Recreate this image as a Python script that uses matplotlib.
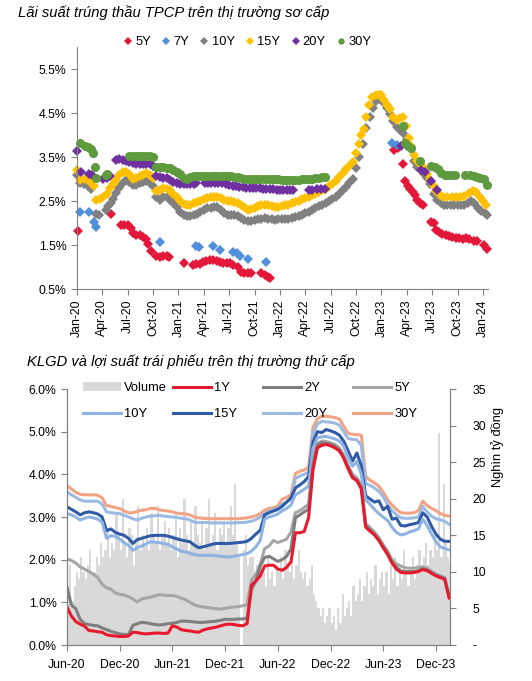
import numpy as np
import matplotlib
matplotlib.use("Agg")
import matplotlib.pyplot as plt
from matplotlib import font_manager

# fonts: narrow Arial-like if present
names = {f.name for f in font_manager.fontManager.ttflist}
narrow = "Liberation Sans Narrow" in names
base = "Liberation Sans Narrow" if narrow else "Liberation Sans"
plt.rcParams["font.family"] = [base, "DejaVu Sans"]
k = 1.0 if narrow else 0.88   # shrink sizes when only the normal width is available

# ---------------- top chart data (months from Jan-20) ----------------
q_labels = ["Jan-20", "Apr-20", "Jul-20", "Oct-20", "Jan-21", "Apr-21", "Jul-21", "Oct-21",
            "Jan-22", "Apr-22", "Jul-22", "Oct-22", "Jan-23", "Apr-23", "Jul-23", "Oct-23", "Jan-24"]

t5 = [0.1, 4.05, 5.2, 5.6, 6.0, 6.4, 6.6, 7.0, 7.4, 7.8, 8.1, 8.4, 8.8, 9.4, 9.8, 10.2, 10.6, 10.9,
      12.7, 13.7, 14.1, 14.5, 14.9, 15.3, 15.7, 16.1, 16.5, 16.9, 17.3, 17.7, 18.1, 18.5, 19.0, 19.4,
      19.8, 20.2, 20.6, 21.8, 22.2, 22.6, 22.8,
      37.5, 37.9, 38.5, 38.8, 39.1, 39.4, 39.7, 40.0, 40.2, 40.6, 40.9, 41.9, 42.2, 42.5, 42.8, 43.2,
      43.6, 44.0, 44.4, 44.8, 45.2, 45.6, 46.0, 46.4, 47.0, 47.3, 48.1, 48.5]
v5 = [1.81, 2.21, 1.96, 1.96, 1.95, 1.88, 1.78, 1.73, 1.72, 1.68, 1.63, 1.52, 1.36, 1.25, 1.23, 1.24, 1.24, 1.23,
      1.09, 1.05, 1.06, 1.07, 1.12, 1.14, 1.16, 1.17, 1.14, 1.12, 1.10, 1.09, 1.08, 1.05, 1.00, 0.88,
      0.86, 0.86, 0.86, 0.86, 0.81, 0.77, 0.75,
      3.67, 3.70, 3.33, 2.95, 2.85, 2.78, 2.70, 2.63, 2.52, 2.45, 2.40, 2.02, 2.00, 1.85, 1.80, 1.75,
      1.72, 1.70, 1.68, 1.66, 1.65, 1.64, 1.65, 1.63, 1.60, 1.60, 1.50, 1.40]

t7 = [0.3, 1.4, 2.0, 2.2, 9.8, 14.1, 14.4, 16.1, 16.9, 18.4, 18.9, 19.3, 20.2, 22.4, 37.2, 37.8]
v7 = [2.26, 2.26, 2.02, 1.90, 1.56, 1.47, 1.46, 1.47, 1.38, 1.33, 1.32, 1.26, 1.19, 1.11, 3.81, 3.78]

t10 = [0.0, 0.3, 0.8, 1.3, 1.7, 2.3, 2.6, 3.4, 3.7, 4.0, 4.3, 4.6, 5.0, 5.4, 5.8, 6.2, 6.6, 7.0, 7.4, 7.8,
       8.2, 8.6, 9.0, 9.4, 9.8, 10.2, 10.6, 11.0, 11.4, 11.8, 12.2, 12.6, 13.0, 13.4, 13.8, 14.2, 14.6,
       15.0, 15.4, 15.8, 16.2, 16.6, 17.0, 17.4, 17.8, 18.2, 18.6, 19.0, 19.4, 19.8, 20.2, 20.6, 21.0,
       21.4, 21.8, 22.2, 22.6, 23.0, 23.4, 23.8, 24.2, 24.6, 25.0, 25.4, 25.8, 26.2, 26.6, 27.0, 27.4,
       27.8, 28.2, 28.6, 29.0, 29.4, 29.8, 30.2, 30.6, 31.0, 31.4, 31.8, 32.2, 32.6, 33.0, 33.4, 33.8,
       34.2, 34.6, 35.0, 35.4, 35.8, 36.2, 36.6, 37.0, 37.4, 37.8, 38.2, 38.6, 39.0, 39.4, 39.8, 40.2,
       40.6, 41.0, 41.4, 41.8, 42.2, 42.6, 43.0, 43.4, 43.8, 44.2, 44.6, 45.0, 45.4, 45.8, 46.2, 46.6,
       47.0, 47.4, 47.8, 48.2, 48.5]
v10 = [3.10, 2.92, 2.88, 2.84, 2.78, 2.20, 2.18, 2.30, 2.38, 2.45, 2.55, 2.68, 2.80, 2.91, 2.98, 2.93, 2.87, 2.86, 2.90, 2.93,
       2.95, 2.90, 2.83, 2.60, 2.53, 2.58, 2.60, 2.52, 2.45, 2.36, 2.25, 2.18, 2.15, 2.16, 2.18, 2.20, 2.25,
       2.30, 2.33, 2.35, 2.37, 2.36, 2.30, 2.22, 2.19, 2.19, 2.19, 2.16, 2.12, 2.07, 2.04, 2.04, 2.06,
       2.08, 2.10, 2.11, 2.10, 2.08, 2.07, 2.08, 2.08, 2.09, 2.10, 2.12, 2.14, 2.16, 2.19, 2.22, 2.25,
       2.30, 2.34, 2.38, 2.42, 2.46, 2.50, 2.54, 2.60, 2.66, 2.74, 2.82, 2.92, 3.00, 3.25, 3.50, 3.80,
       4.15, 4.40, 4.62, 4.78, 4.82, 4.76, 4.62, 4.48, 4.32, 4.18, 4.12, 4.05, 3.90, 3.70, 3.40, 3.28,
       3.22, 3.12, 3.02, 2.88, 2.65, 2.52, 2.45, 2.42, 2.40, 2.40, 2.40, 2.40, 2.40, 2.42, 2.45, 2.50,
       2.45, 2.33, 2.27, 2.22, 2.19]

t15 = [0.0, 0.4, 0.9, 1.3, 1.7, 2.0, 2.3, 2.7, 3.1, 3.5, 3.9, 4.2, 4.6, 5.0, 5.4, 5.8, 6.2, 6.6, 7.0, 7.4,
       7.8, 8.2, 8.6, 9.0, 9.4, 9.8, 10.2, 10.6, 11.0, 11.4, 11.8, 12.2, 12.6, 13.0, 13.4, 13.8, 14.2,
       14.6, 15.0, 15.4, 15.8, 16.2, 16.6, 17.0, 17.4, 17.8, 18.2, 18.6, 19.0, 19.4, 19.8, 20.2, 20.6,
       21.0, 21.4, 21.8, 22.2, 22.6, 23.0, 23.4, 23.8, 24.2, 24.6, 25.0, 25.4, 25.8, 26.2, 26.6, 27.0,
       27.4, 27.8, 28.2, 28.6, 29.0, 29.4, 29.8, 30.2, 30.6, 31.0, 31.4, 31.8, 32.2, 32.6, 33.0, 33.3,
       33.6, 33.9, 34.2, 34.5, 34.9, 35.3, 35.7, 36.0, 36.3, 36.7, 37.0, 37.4, 37.8, 38.2, 38.6, 38.9,
       39.2, 39.5, 39.8, 40.2, 40.6, 41.0, 41.4, 41.8, 42.2, 42.5, 42.9, 43.3, 43.8, 44.3, 44.8, 45.3,
       45.8, 46.3, 46.8, 47.2, 47.6, 48.0, 48.4]
v15 = [3.21, 2.98, 3.00, 3.02, 2.92, 2.85, 2.53, 2.55, 2.60, 2.66, 2.80, 2.88, 2.97, 3.10, 3.15, 3.17, 3.12, 3.00, 3.02, 3.06,
       3.10, 3.13, 3.10, 3.02, 2.72, 2.76, 2.80, 2.78, 2.74, 2.66, 2.58, 2.50, 2.43, 2.40, 2.42, 2.45, 2.48,
       2.50, 2.54, 2.57, 2.58, 2.60, 2.60, 2.56, 2.52, 2.50, 2.49, 2.48, 2.46, 2.42, 2.36, 2.30, 2.32,
       2.35, 2.38, 2.40, 2.42, 2.41, 2.39, 2.37, 2.37, 2.38, 2.40, 2.42, 2.45, 2.48, 2.51, 2.54, 2.57,
       2.60, 2.63, 2.66, 2.70, 2.74, 2.78, 2.83, 2.88, 2.96, 3.05, 3.14, 3.22, 3.30, 3.38, 3.60, 3.80,
       4.00, 4.14, 4.42, 4.68, 4.86, 4.92, 4.92, 4.90, 4.80, 4.68, 4.58, 4.42, 4.33, 4.38, 4.40, 4.20,
       3.93, 3.75, 3.55, 3.42, 3.33, 3.25, 3.12, 2.98, 2.85, 2.72, 2.64, 2.60, 2.60, 2.60, 2.60, 2.60,
       2.62, 2.68, 2.72, 2.70, 2.60, 2.50, 2.42]

t20 = [0.0, 0.5, 1.4, 1.8, 3.1, 3.5, 3.9, 4.6, 5.0, 5.4, 5.8, 6.2, 6.6, 7.0, 7.4, 7.8, 8.2, 8.6, 9.0,
       9.4, 9.8, 10.2, 10.6, 11.0, 11.4, 11.8, 12.2, 12.6, 13.0, 13.4, 13.8, 14.1, 15.1, 15.5, 15.9,
       16.3, 16.7, 17.1, 17.6, 18.0, 18.4, 18.8, 19.2, 19.6, 20.0, 20.4, 20.8, 21.2, 21.6, 22.0, 22.4,
       22.8, 23.2, 23.6, 24.0, 24.4, 24.8, 25.2, 25.6, 27.4, 27.8, 28.4, 28.8, 29.3,
       38.3, 40.7, 41.2, 41.9, 42.6]
v20 = [3.63, 3.17, 3.12, 3.10, 3.00, 3.02, 3.06, 3.44, 3.45, 3.44, 3.42, 3.38, 3.36, 3.35, 3.35, 3.35, 3.34, 3.33, 3.30,
       3.06, 3.04, 3.03, 3.02, 2.98, 2.94, 2.91, 2.89, 2.88, 2.88, 2.88, 2.89, 2.90, 2.91, 2.91, 2.92,
       2.92, 2.92, 2.91, 2.88, 2.86, 2.84, 2.83, 2.82, 2.81, 2.80, 2.80, 2.80, 2.79, 2.79, 2.78, 2.78,
       2.77, 2.77, 2.76, 2.76, 2.76, 2.76, 2.75, 2.75, 2.76, 2.76, 2.77, 2.77, 2.77,
       3.75, 3.20, 3.16, 2.95, 2.76]

t30 = [0.4, 0.9, 1.3, 1.7, 1.9, 2.1, 2.3, 3.4, 3.6, 6.2, 6.6, 7.0, 7.4, 7.8, 8.2, 8.6, 9.0, 9.4, 9.8,
       10.2, 10.6, 11.0, 11.4, 11.8, 12.2, 12.6, 13.0, 13.4, 13.8, 14.2, 14.6, 15.0, 15.4, 15.8, 16.2,
       16.6, 17.0, 17.4, 17.8, 18.2, 18.6, 19.0, 19.4, 19.8, 20.2, 20.6, 21.0, 21.4, 21.8, 22.2, 22.6,
       23.0, 23.4, 23.8, 24.2, 24.6, 25.0, 25.4, 25.8, 26.2, 26.6, 27.0, 27.4, 27.8, 28.2, 28.6, 29.0, 29.3,
       38.5, 38.8, 39.1, 39.5, 40.6, 41.9, 42.3, 42.7, 43.1, 43.5, 43.9, 44.3, 44.7, 45.9, 46.5, 46.9,
       47.3, 47.7, 48.1, 48.5]
v30 = [3.82, 3.76, 3.73, 3.68, 3.58, 3.28, 3.02, 3.10, 3.12, 3.52, 3.53, 3.53, 3.53, 3.53, 3.53, 3.52, 3.50, 3.28, 3.27,
       3.27, 3.26, 3.24, 3.20, 3.16, 3.12, 3.03, 3.00, 3.04, 3.06, 3.07, 3.07, 3.07, 3.07, 3.07, 3.07,
       3.07, 3.07, 3.06, 3.06, 3.06, 3.05, 3.04, 3.02, 3.01, 3.00, 3.00, 3.00, 3.00, 3.00, 3.00, 3.00,
       3.00, 3.00, 2.99, 2.98, 2.98, 2.98, 2.98, 2.98, 2.98, 2.99, 3.00, 3.00, 3.01, 3.02, 3.03, 3.04, 3.04,
       4.21, 3.82, 3.74, 3.70, 3.42, 3.29, 3.27, 3.23, 3.13, 3.08, 3.08, 3.08, 3.08, 3.08, 3.08, 3.07,
       3.05, 3.03, 3.00, 2.86]

# ---------------- bottom chart data (half-month steps from Jun-20) ----------------
h_labels = ["Jun-20", "Dec-20", "Jun-21", "Dec-21", "Jun-22", "Dec-22", "Jun-23", "Dec-23"]
months = np.arange(0, 44, 0.5)

y1 = [0.89, 0.68, 0.55, 0.49, 0.44, 0.34, 0.33, 0.31, 0.30, 0.24, 0.22, 0.21,
      0.20, 0.20, 0.21, 0.30, 0.29, 0.27, 0.26, 0.27, 0.28, 0.28, 0.27, 0.28,
      0.45, 0.42, 0.36, 0.34, 0.33, 0.31, 0.30, 0.35, 0.38, 0.40, 0.42, 0.45,
      0.48, 0.49, 0.48, 0.46, 0.45, 0.50, 1.40, 1.50, 1.62, 1.85, 1.87, 1.87,
      1.78, 1.75, 1.82, 1.95, 2.63, 2.63, 2.66, 2.98, 4.10, 4.62, 4.68, 4.70,
      4.67, 4.62, 4.55, 4.38, 4.13, 3.92, 3.85, 3.66, 2.76, 2.67, 2.58, 2.45,
      2.28, 2.12, 1.92, 1.78, 1.70, 1.69, 1.69, 1.70, 1.72, 1.77, 1.74, 1.68,
      1.62, 1.58, 1.54, 1.10]
y2 = [1.36, 0.94, 0.85, 0.60, 0.50, 0.48, 0.46, 0.45, 0.40, 0.36, 0.32, 0.29,
      0.26, 0.25, 0.24, 0.46, 0.50, 0.53, 0.52, 0.50, 0.48, 0.47, 0.48, 0.50,
      0.51, 0.53, 0.56, 0.56, 0.55, 0.54, 0.53, 0.53, 0.54, 0.55, 0.56, 0.58,
      0.60, 0.60, 0.60, 0.61, 0.61, 0.63, 1.30, 1.50, 1.85, 2.05, 2.08, 2.02,
      1.96, 2.00, 2.08, 2.25, 2.98, 3.05, 3.12, 3.18, 4.20, 4.68, 4.74, 4.73,
      4.70, 4.66, 4.58, 4.40, 4.18, 3.95, 3.87, 3.70, 2.80, 2.70, 2.60, 2.47,
      2.30, 2.15, 1.95, 1.82, 1.74, 1.72, 1.72, 1.72, 1.74, 1.79, 1.76, 1.70,
      1.64, 1.60, 1.56, 1.13]
y5 = [2.02, 1.98, 1.92, 1.83, 1.78, 1.72, 1.66, 1.58, 1.42, 1.34, 1.31, 1.22,
      1.19, 1.17, 1.13, 1.08, 1.01, 1.08, 1.10, 1.12, 1.15, 1.18, 1.17, 1.16,
      1.16, 1.14, 1.10, 1.06, 1.00, 0.94, 0.91, 0.89, 0.88, 0.86, 0.85, 0.84,
      0.86, 0.88, 0.89, 0.90, 0.92, 0.94, 1.52, 1.65, 1.90, 2.26, 2.32, 2.45,
      2.40, 2.44, 2.48, 2.65, 3.10, 3.15, 3.22, 3.30, 4.30, 4.72, 4.78, 4.77,
      4.74, 4.70, 4.62, 4.45, 4.20, 4.00, 3.92, 3.75, 2.85, 2.75, 2.65, 2.52,
      2.35, 2.20, 2.00, 1.90, 1.85, 1.81, 1.80, 1.80, 1.82, 1.83, 1.80, 1.73,
      1.66, 1.62, 1.58, 1.15]
y10 = [3.08, 3.05, 3.00, 2.93, 2.97, 3.00, 2.98, 2.95, 2.88, 2.50, 2.56, 2.55,
       2.48, 2.40, 2.33, 2.22, 2.28, 2.32, 2.37, 2.42, 2.41, 2.40, 2.38, 2.36,
       2.30, 2.25, 2.20, 2.18, 2.15, 2.12, 2.10, 2.10, 2.10, 2.10, 2.09, 2.08,
       2.07, 2.06, 2.08, 2.10, 2.12, 2.14, 2.20, 2.30, 2.45, 2.95, 3.00, 3.03,
       3.07, 3.15, 3.20, 3.28, 3.52, 3.58, 3.65, 3.72, 4.60, 4.86, 4.88, 4.89,
       4.86, 4.83, 4.78, 4.66, 4.40, 4.19, 4.30, 4.00, 3.40, 3.30, 3.18, 3.08,
       3.00, 2.92, 2.76, 2.64, 2.58, 2.60, 2.65, 2.68, 2.72, 2.95, 2.80, 2.60,
       2.42, 2.30, 2.26, 2.23]
y15 = [3.24, 3.18, 3.12, 3.05, 3.10, 3.12, 3.10, 3.07, 3.00, 2.68, 2.72, 2.64,
       2.60, 2.57, 2.50, 2.38, 2.47, 2.50, 2.53, 2.56, 2.57, 2.57, 2.57, 2.55,
       2.52, 2.49, 2.46, 2.44, 2.42, 2.34, 2.28, 2.30, 2.33, 2.36, 2.38, 2.38,
       2.38, 2.38, 2.39, 2.40, 2.41, 2.43, 2.50, 2.60, 2.69, 3.05, 3.10, 3.14,
       3.18, 3.25, 3.35, 3.45, 3.68, 3.75, 3.83, 3.95, 4.75, 5.00, 4.98, 5.05,
       5.02, 4.98, 4.92, 4.78, 4.55, 4.31, 4.50, 4.20, 3.50, 3.42, 3.35, 3.38,
       3.17, 3.25, 2.95, 2.97, 2.80, 2.79, 2.82, 2.84, 2.87, 3.10, 3.00, 2.78,
       2.60, 2.48, 2.43, 2.43]
y20 = [3.59, 3.52, 3.46, 3.40, 3.37, 3.37, 3.37, 3.37, 3.30, 3.12, 3.10, 3.09,
       3.08, 3.04, 3.00, 2.96, 2.93, 2.97, 3.00, 3.02, 3.03, 3.04, 3.02, 3.01,
       3.00, 2.99, 2.97, 2.96, 2.93, 2.88, 2.87, 2.87, 2.87, 2.86, 2.86, 2.86,
       2.86, 2.86, 2.86, 2.87, 2.87, 2.88, 2.90, 2.94, 3.00, 3.08, 3.13, 3.17,
       3.21, 3.30, 3.35, 3.42, 3.90, 3.96, 4.00, 4.05, 4.95, 5.18, 5.24, 5.23,
       5.22, 5.20, 5.15, 5.00, 4.84, 4.82, 4.81, 4.68, 3.78, 3.74, 3.68, 3.60,
       3.48, 3.28, 3.15, 3.05, 2.98, 2.97, 2.97, 2.98, 3.00, 3.25, 3.12, 3.02,
       2.96, 2.93, 2.90, 2.83]
y30 = [3.73, 3.66, 3.58, 3.53, 3.52, 3.52, 3.52, 3.51, 3.45, 3.27, 3.25, 3.22,
       3.20, 3.14, 3.10, 3.10, 3.13, 3.16, 3.17, 3.20, 3.20, 3.17, 3.15, 3.14,
       3.12, 3.09, 3.08, 3.07, 3.05, 3.00, 2.98, 2.97, 2.96, 2.96, 2.96, 2.96,
       2.96, 2.96, 2.96, 2.96, 2.97, 2.98, 3.00, 3.03, 3.08, 3.16, 3.20, 3.22,
       3.26, 3.42, 3.46, 3.52, 4.02, 4.07, 4.10, 4.17, 5.10, 5.30, 5.36, 5.36,
       5.35, 5.33, 5.30, 5.13, 4.96, 4.94, 4.93, 4.92, 3.95, 3.86, 3.80, 3.72,
       3.58, 3.40, 3.28, 3.18, 3.10, 3.09, 3.09, 3.10, 3.15, 3.37, 3.27, 3.20,
       3.15, 3.08, 3.04, 3.02]

# trading volume, quarter-month steps (nghìn tỷ đồng)
vol_months = np.arange(0, 43.75, 0.25)
volume = [7, 11, 6, 8, 10, 9, 12, 10, 9, 11, 13, 10,
          10, 12, 11, 14, 12, 13, 16, 12, 14, 13, 18, 15,
          13, 20, 14, 12, 16, 15, 11, 14, 19, 13, 15, 14,
          16, 13, 18, 15, 14, 19, 13, 15, 17, 14, 16, 13,
          15, 18, 12, 16, 14, 20, 15, 13, 17, 14, 19, 15,
          14, 17, 13, 16, 20, 14, 15, 18, 13, 16, 15, 17,
          14, 16, 19, 15, 22, 14, 12, 0, 13, 15, 11, 12,
          12, 10, 11, 9, 11, 10, 8, 12, 9, 10, 8, 11,
          10, 12, 9, 13, 11, 10, 12, 9, 11, 13, 10, 9,
          10, 8, 9, 11, 7, 6, 5, 4, 5, 3, 4, 5,
          3, 4, 2, 5, 3, 7, 4, 5, 6, 4, 8, 6,
          7, 9, 6, 8, 10, 7, 9, 8, 11, 7, 9, 10,
          8, 10, 7, 11, 9, 12, 8, 10, 9, 13, 10, 8,
          10, 12, 9, 11, 13, 10, 12, 14, 11, 13, 12, 15,
          13, 29, 12, 22, 14, 12, 11]

W, H = 532, 681
fig = plt.figure(figsize=(W / 100, H / 100), dpi=100)
spine_c = "#808080"
tick_fs = 10 * k
leg_fs = 10.5 * k
title_fs = 12.5 * 0.85 if not narrow else 12.5

# ---------------- top chart ----------------
fig.text(18 / W, 1 - 13 / H, "Lãi suất trúng thầu TPCP trên thị trường sơ cấp",
         fontsize=title_fs, fontstyle="italic", va="center", ha="left")

ax1 = fig.add_axes([77 / W, 1 - 289 / H, 411 / W, 242 / H])
series_top = [
    ("5Y", t5, v5, "#e3173a", "D", 5.5),
    ("7Y", t7, v7, "#4f8fdb", "D", 5.5),
    ("10Y", t10, v10, "#808080", "D", 5.5),
    ("15Y", t15, v15, "#ffc000", "D", 5.5),
    ("20Y", t20, v20, "#7030a0", "D", 5.5),
    ("30Y", t30, v30, "#5e9a3e", "o", 6.5),
]
handles = []
for name, t, v, c, mk, ms in series_top:
    h, = ax1.plot(t, v, ls="none", marker=mk, ms=ms, color=c, mec=c, mew=0, label=name, clip_on=False)
    handles.append(h)

ax1.set_xlim(0, 48.6)
ax1.set_ylim(0.5, 6.0)
ax1.set_yticks([0.5, 1.5, 2.5, 3.5, 4.5, 5.5])
ax1.set_yticklabels([f"{v:.1f}%" for v in [0.5, 1.5, 2.5, 3.5, 4.5, 5.5]])
ax1.set_xticks(np.arange(0, 49, 3))
ax1.set_xticklabels(q_labels, rotation=90)
for s in ["top", "right"]:
    ax1.spines[s].set_visible(False)
for s in ["left", "bottom"]:
    ax1.spines[s].set_color(spine_c)
ax1.tick_params(colors=spine_c, labelcolor="black", labelsize=tick_fs, length=4, width=0.8)

fig.legend(handles=handles, ncol=6, loc="center", bbox_to_anchor=(248 / W, 1 - 42 / H),
           frameon=False, fontsize=leg_fs, handlelength=0.5, handletextpad=0.3, columnspacing=0.95,
           borderpad=0, markerscale=0.7)

# ---------------- bottom chart ----------------
fig.text(27 / W, 1 - 362 / H, "KLGD và lợi suất trái phiếu trên thị trường thứ cấp",
         fontsize=title_fs, fontstyle="italic", va="center", ha="left")

ax2 = fig.add_axes([67 / W, 1 - 645 / H, 383 / W, 256 / H])
axv = ax2.twinx()
bars = axv.bar(vol_months, volume, width=0.25, align="edge", color="#d9d9d9", linewidth=0,
               antialiased=False, label="Volume")
axv.set_ylim(0, 35)
axv.set_yticks(np.arange(0, 36, 5))
axv.set_yticklabels(["-"] + [str(v) for v in range(5, 36, 5)])
ax2.set_zorder(axv.get_zorder() + 1)
ax2.patch.set_visible(False)

series_bot = [
    ("1Y", y1, "#e8192c"),
    ("2Y", y2, "#7f7f7f"),
    ("5Y", y5, "#a6a6a6"),
    ("10Y", y10, "#8fb4e3"),
    ("15Y", y15, "#2f5aa8"),
    ("20Y", y20, "#9bbbe4"),
    ("30Y", y30, "#f2a384"),
]
lines = {}
for name, y, c in series_bot[::-1]:
    ln, = ax2.plot(months, y, color=c, lw=2.2, solid_joinstyle="round", label=name)
    lines[name] = ln

ax2.set_xlim(0, 43.6)
ax2.set_ylim(0, 6)
ax2.set_yticks(np.arange(0, 6.1, 1.0))
ax2.set_yticklabels([f"{v:.1f}%" for v in np.arange(0, 6.1, 1.0)])
ax2.set_xticks(np.arange(0, 43, 6))
ax2.set_xticklabels(h_labels)
for a in (ax2, axv):
    a.spines["top"].set_visible(False)
    for s in ["left", "bottom", "right"]:
        a.spines[s].set_color(spine_c)
    a.tick_params(colors=spine_c, labelcolor="black", labelsize=tick_fs, length=4, width=0.8)
ax2.tick_params(axis="x", pad=6)
axv.tick_params(axis="y", pad=12)

fig.text(497 / W, 1 - 447 / H, "Nghìn tỷ đồng", rotation=90, ha="center", va="center", fontsize=leg_fs)

# legend: 2 rows x 4 columns, placed entry by entry
entries = [(bars, "Volume"), (lines["1Y"], "1Y"), (lines["2Y"], "2Y"), (lines["5Y"], "5Y"),
           (lines["10Y"], "10Y"), (lines["15Y"], "15Y"), (lines["20Y"], "20Y"), (lines["30Y"], "30Y")]
col_x = [83, 173, 263, 353]
row_y = [388, 414]
for i, (h, lab) in enumerate(entries):
    r, c = divmod(i, 4)
    fig.legend(handles=[h], labels=[lab], loc="center left",
               bbox_to_anchor=(col_x[c] / W, 1 - row_y[r] / H), frameon=False, fontsize=leg_fs,
               handlelength=38 / (leg_fs * 100 / 72), handletextpad=0.25, borderpad=0, borderaxespad=0)

fig.savefig("out.png", dpi=100)
